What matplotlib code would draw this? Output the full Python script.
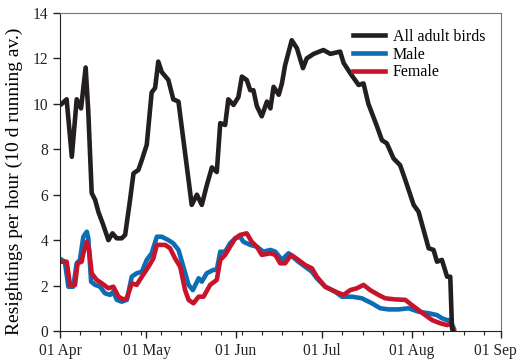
import numpy as np
import matplotlib.pyplot as plt
import matplotlib.dates as mdates
from matplotlib.transforms import ScaledTranslation

# days after 1 April and resightings per hour (10 d running average)
all_days = [0.6, 2.3, 4.1, 5.8, 7.3, 8.9, 9.8, 11.0, 12.2, 13.3, 15.0, 16.8, 18.2,
            19.7, 21.4, 22.6, 24.3, 25.5, 27.2, 28.4, 30.1, 31.8, 33.0, 34.1, 35.3,
            37.6, 39.3, 41.1, 44.6, 45.7, 47.5, 49.2, 50.9, 52.7, 54.4, 55.6, 57.3,
            58.4, 60.2, 61.9, 63.1, 64.8, 66.0, 67.1, 68.3, 70.0, 71.8, 73.0, 74.1,
            75.9, 77.0, 78.1, 80.4, 82.2, 84.3, 85.6, 88.0, 91.4, 93.8, 97.2, 98.4,
            100.7, 103.6, 105.3, 107.0, 110.0, 111.7, 113.4, 115.7, 118.0, 119.8,
            122.7, 124.4, 127.9, 129.6, 130.8, 132.5, 134.3, 135.4, 136.0, 136.3]
all_birds = [10.0, 10.2, 7.67, 10.2, 9.8, 11.6, 9.7, 6.07, 5.77, 5.25, 4.67, 4.0, 4.3,
             4.08, 4.08, 4.23, 5.77, 6.94, 7.09, 7.53, 8.2, 10.5, 10.7, 11.86, 11.4,
             11.05, 10.2, 10.1, 6.65, 5.55, 6.0, 5.55, 6.4, 7.2, 7.0, 9.15, 9.07,
             10.2, 9.95, 10.3, 11.2, 11.05, 10.6, 10.6, 9.9, 9.45, 10.1, 9.8, 10.75,
             10.4, 10.9, 11.7, 12.8, 12.45, 11.57, 12.0, 12.2, 12.37, 12.2, 12.3, 11.8,
             11.35, 10.83, 10.9, 10.0, 9.0, 8.4, 8.26, 7.6, 7.3, 6.65,
             5.55, 5.25, 3.64, 3.57, 3.05, 3.13, 2.39, 2.39, 0.13, 0.0]

male_days = [0.6, 1.7, 2.9, 4.6, 5.8, 6.9, 8.1, 9.3, 9.8, 10.8, 12.2, 13.9, 15.6,
             17.4, 18.5, 19.7, 21.4, 23.2, 24.9, 26.6, 28.4, 30.1, 31.8, 33.6, 35.3,
             37.6, 39.3, 41.1, 42.8, 44.6, 46.1, 48.1, 49.2, 50.9, 53.2, 54.4, 55.6,
             57.3, 59.0, 60.8, 62.5, 63.6, 66.0, 68.3, 70.6, 73.0, 74.7, 77.0, 79.3,
             82.7, 87.4, 89.1, 92.0, 95.5, 97.8, 101.3, 104.7, 108.2, 111.1, 114.0,
             117.5, 120.9, 124.4, 127.9, 130.8, 132.5, 134.3, 135.4, 136.6]
male = [3.13, 3.05, 1.95, 1.95, 2.98, 3.13, 4.15, 4.37, 4.1, 2.17, 2.03, 1.95, 1.66,
        1.59, 1.73, 1.37, 1.29, 1.37, 2.39, 2.54, 2.61, 3.13, 3.42, 4.15, 4.15,
        4.0, 3.86, 3.57, 2.83, 2.03, 1.8, 2.32, 2.17, 2.54, 2.69, 2.69, 3.49,
        3.49, 3.86, 4.08, 4.15, 3.93, 3.79, 3.71, 3.49, 3.57, 3.49, 3.13, 3.42,
        3.05, 2.61, 2.32, 1.95, 1.73, 1.51, 1.51, 1.44, 1.22, 1.0, 0.95,
        0.95, 1.0, 0.85, 0.78, 0.7, 0.56, 0.48, 0.48, 0.12]

female_days = [0.6, 2.3, 3.5, 5.2, 6.1, 7.5, 8.1, 9.3, 10.1, 11.0, 12.7, 14.5, 16.8,
               18.5, 20.3, 22.0, 23.2, 24.9, 26.6, 28.4, 30.7, 32.4, 33.6, 36.5, 38.2,
               39.9, 41.7, 43.4, 44.6, 46.3, 48.1, 49.8, 52.1, 54.4, 55.6, 57.3, 59.0,
               60.8, 62.5, 64.8, 66.5, 68.3, 70.0, 73.0, 74.7, 76.4, 78.1, 80.2, 82.7,
               85.1, 87.4, 89.1, 92.0, 95.5, 98.4, 100.7, 103.0, 105.3, 107.6, 110.5,
               112.8, 116.3, 119.8, 122.1, 124.4, 126.7, 129.1, 131.9, 134.3, 135.4,
               136.6]
female = [3.05, 3.05, 2.03, 2.03, 2.98, 3.05, 3.42, 3.93, 3.57, 2.54, 2.25, 2.1, 1.88,
          1.95, 1.51, 1.39, 1.44, 2.1, 2.03, 2.39, 2.83, 3.2, 3.79, 3.79, 3.64,
          3.2, 2.83, 1.8, 1.37, 1.22, 1.51, 1.51, 2.03, 2.25, 3.13, 3.35, 3.71,
          4.08, 4.23, 4.3, 3.93, 3.71, 3.35, 3.42, 3.35, 2.98, 2.98, 3.35, 3.13,
          2.9, 2.76, 2.39, 1.95, 1.73, 1.59, 1.8, 1.88, 2.03, 1.8, 1.59,
          1.44, 1.39, 1.37, 1.14, 0.92, 0.7, 0.48, 0.34, 0.26, 0.34,
          0.04]

start = np.datetime64('2013-04-01')


def to_dates(days):
    return start + (np.array(days) * 24 * 3600).astype('timedelta64[s]')


plt.rcParams['font.family'] = ['Liberation Serif', 'DejaVu Serif']

fig = plt.figure(figsize=(5.19, 3.60), dpi=100)
ax = fig.add_axes([0.1156, 0.0806, 0.8497, 0.8833])

ax.plot(to_dates(all_days), all_birds, color='#231f20', lw=3.3, label='All adult birds',
        solid_joinstyle='round', zorder=3)
ax.plot(to_dates(male_days), male, color='#0b6db3', lw=3.3, label='Male',
        solid_joinstyle='round', zorder=2)
ax.plot(to_dates(female_days), female, color='#c8142b', lw=3.3, label='Female',
        solid_joinstyle='round', zorder=2.5)

ax.set_xlim(np.datetime64('2013-04-01'), np.datetime64('2013-09-01'))
ax.set_ylim(0, 14)
ax.set_yticks(np.arange(0, 15, 2))
ax.xaxis.set_major_locator(mdates.MonthLocator())
ax.xaxis.set_major_formatter(mdates.DateFormatter('%d %b'))
ax.xaxis.set_minor_locator(mdates.WeekdayLocator(byweekday=mdates.MO))
ax.tick_params(axis='both', which='major', labelsize=11.2, direction='out', length=5,
               width=1, colors='#222222')
ax.tick_params(axis='x', which='minor', direction='out', length=3, width=0.8,
               colors='#222222')
ax.set_ylabel('Resightings per hour (10 d running av.)', fontsize=14, labelpad=4)
ax.yaxis.set_label_coords(-0.085, 0.47)

# nudge the last date label so it stays inside the figure
fig.canvas.draw()
last = ax.get_xticklabels()[-1]
last.set_transform(last.get_transform() + ScaledTranslation(-6 / 100, 0, fig.dpi_scale_trans))

for s in ['left', 'bottom']:
    ax.spines[s].set_color('#222222')
for s in ['top', 'right']:
    ax.spines[s].set_color('#777777')

ax.legend(loc='upper right', frameon=False, fontsize=11.5, handlelength=2.0,
          handletextpad=0.5, labelspacing=0.1, borderaxespad=0.6)

fig.savefig('out.png', dpi=100)
